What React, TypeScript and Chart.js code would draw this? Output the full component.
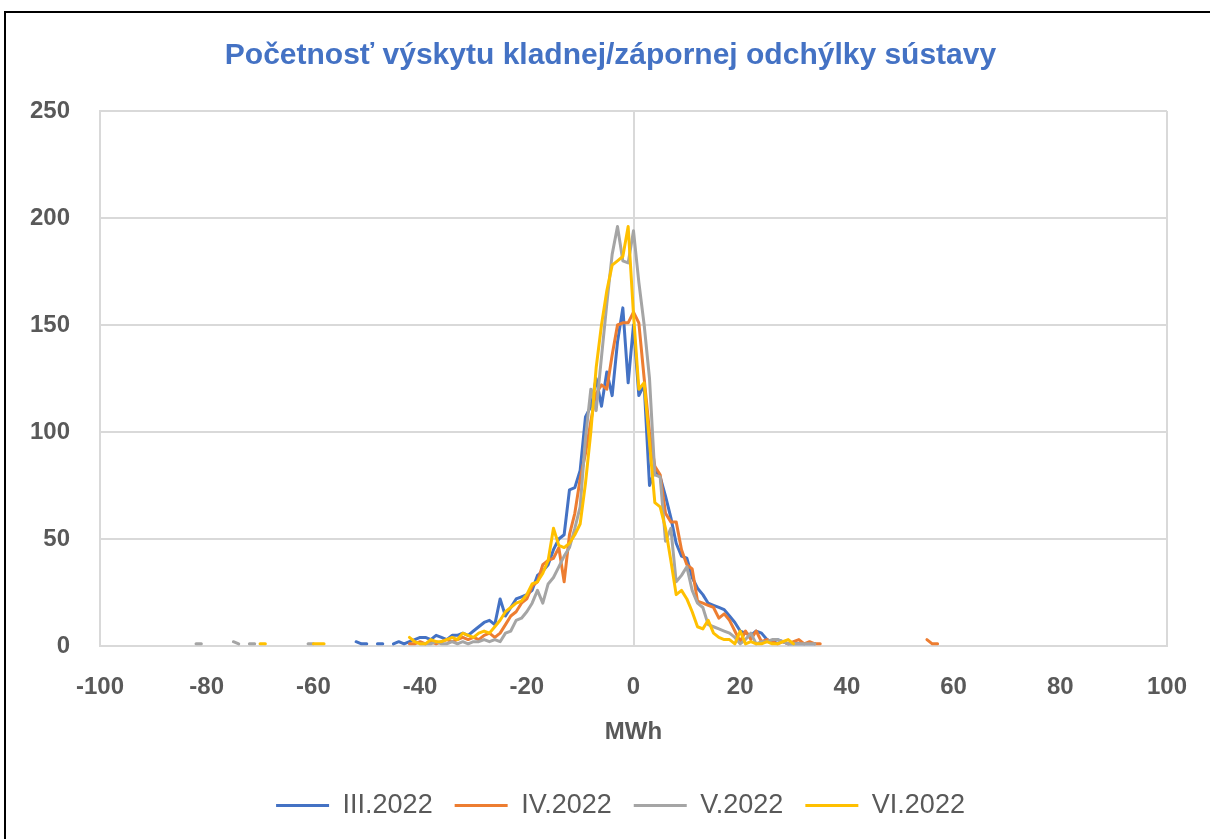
import React, { useEffect, useRef } from "react";
import { Chart, registerables } from "chart.js";

Chart.register(...registerables);

const seriesNames = ["III.2022", "IV.2022", "V.2022", "VI.2022"];
const seriesColors = ["#4472C4", "#ED7D31", "#A5A5A5", "#FFC000"];

// Values per 1 MWh bin, starting at the given MWh value; null = no occurrence (gap)
const startIII = -52;
const countsIII = [
  2, 1, 1, null, 1, 1, null, 1, 2, 1,
  2, 3, 4, 4, 3, 5, 4, 3, 5, 5,
  6, 5, 7, 9, 11, 12, 10, 22, 14, 18,
  22, 23, 24, 26, 33, 35, 38, 45, 50, 52,
  73, 74, 82, 107, 112, 125, 112, 128, 117, 142,
  158, 123, 150, 117, 122, 75, 82, 79, 70, 60,
  48, 42, 41, 32, 27, 24, 20, 19, 18, 17,
  14, 11, 7, 6, 5, 7, 6, 3, 2, 3,
  2, 1, 1, 1, 1, 1, 1,
];

const startIV = -42;
const countsIV = [
  1, 1, 2, 1, 2, 1, 2, 3, 2, 3,
  4, 3, 4, 3, 5, 6, 4, 6, 10, 14,
  16, 20, 22, 28, 30, 38, 40, 41, 46, 30,
  52, 62, 78, 90, 105, 118, 122, 120, 136, 150,
  151, 151, 156, 151, 125, 100, 84, 80, 62, 58,
  58, 45, 38, 36, 21, 20, 19, 18, 13, 15,
  12, 7, 2, 7, 3, 7, 2, 3, 2, 1,
  2, 1, 2, 3, 1, 2, 1, 1,
  null, null, null, null, null, null, null, null, null, null,
  null, null, null, null, null, null, null, null, null,
  3, 1, 1,
];

const startV = -82;
const countsV = [
  1, 1, null, null, null, null, null, 2, 1, null,
  1, 1, null, null, null, null, null, null, null, null,
  null, 1, 1, null, null, null, null, null, null, null,
  null, null, null, null, null, null, null, null, null, null,
  null, null,
  1, 1, 1, 2, 1, 1, 2, 1, 2, 1,
  2, 2, 3, 2, 3, 2, 6, 7, 12, 13,
  16, 20, 26, 20, 29, 32, 37, 42, 46, 55,
  65, 97, 120, 110, 135, 160, 183, 196, 180, 179,
  194, 170, 150, 125, 80, 79, 49, 55, 30, 33,
  37, 26, 20, 18, 10, 9, 8, 7, 6, 4,
  1, 3, 6, 1, 2, 2, 3, 3, 2, 1,
  1, 1, 1, 1, 1,
];

const startVI = -70;
const countsVI = [
  1, 1, null, null, null, null, null, null, null, null,
  1, 1, 1, null, null, null, null, null, null, null,
  null, null, null, null, null, null, null, null,
  4, 2, 1, 1, 3, 2, 2, 3, 4, 3,
  6, 5, 4, 6, 7, 6, 9, 12, 16, 18,
  20, 21, 24, 29, 30, 34, 40, 55, 47, 46,
  48, 52, 57, 76, 100, 130, 150, 166, 178, 180,
  182, 196, 155, 120, 123, 95, 67, 65, 55, 40,
  24, 26, 22, 16, 9, 8, 12, 6, 4, 3,
  3, 1, 7, 1, 2, 1, 1, 2, 1, 1,
  2, 3, 1,
];

const xTicks = [-100, -80, -60, -40, -20, 0, 20, 40, 60, 80, 100];
const yTicks = [0, 50, 100, 150, 200, 250];

const titleText = "Početnosť výskytu kladnej/zápornej odchýlky sústavy";
const xTitle = "MWh";

const toPoints = (start: number, values: (number | null)[]) =>
  values.map((v, i) => ({ x: start + i, y: v }));

const starts = [startIII, startIV, startV, startVI];
const counts = [countsIII, countsIV, countsV, countsVI];

// shifts title / legend boxes horizontally after layout (they are otherwise centred on the canvas)
const shiftBoxes = {
  id: "shiftBoxes",
  afterLayout(chart: any) {
    if (chart.titleBlock) {
      chart.titleBlock.left += 27;
      chart.titleBlock.right += 27;
    }
    if (chart.legend) {
      chart.legend.left += 37;
      chart.legend.right += 37;
    }
  },
};

export default function App() {
  const ref = useRef<HTMLCanvasElement>(null);

  useEffect(() => {
    if (!ref.current) return;
    const font = "'Liberation Sans', Arial, sans-serif";
    const grey = "#595959";
    const gridCol = "#D9D9D9";
    const chart = new Chart(ref.current, {
      type: "line",
      plugins: [shiftBoxes],
      data: {
        datasets: seriesNames.map((name, i) => ({
          label: name,
          data: toPoints(starts[i], counts[i]) as any,
          borderColor: seriesColors[i],
          backgroundColor: seriesColors[i],
          borderWidth: 3,
          pointRadius: 0,
          tension: 0,
          spanGaps: false,
          borderJoinStyle: "round",
          borderCapStyle: "round",
          order: seriesNames.length - i,
        })),
      },
      options: {
        animation: false,
        responsive: false,
        devicePixelRatio: 1,
        layout: { padding: { left: 0, right: 43, top: 0, bottom: 10 } },
        plugins: {
          title: {
            display: true,
            text: titleText,
            color: "#4472C4",
            font: { family: font, size: 30, weight: "bold" },
            padding: { top: 38, bottom: 37 },
          },
          legend: {
            position: "bottom",
            labels: {
              color: grey,
              font: { family: font, size: 27 },
              boxWidth: 53,
              boxHeight: 3,
              padding: 22,
              sort: (a: any, b: any) => a.datasetIndex - b.datasetIndex,
              generateLabels: (c: any) => {
                const items = Chart.defaults.plugins.legend.labels.generateLabels(c);
                return items.map((it: any) => ({
                  ...it,
                  fillStyle: seriesColors[it.datasetIndex],
                  lineWidth: 0,
                }));
              },
            },
          },
          tooltip: { enabled: false },
        },
        scales: {
          x: {
            type: "linear",
            min: -100,
            max: 100,
            afterBuildTicks: (s: any) => {
              s.ticks = xTicks.map((v) => ({ value: v }));
            },
            afterFit: (s: any) => {
              s.height = 124;
            },
            ticks: {
              color: grey,
              font: { family: font, size: 24, weight: "bold" },
              padding: 7,
              maxRotation: 0,
            },
            grid: {
              drawTicks: true,
              tickLength: 20,
              tickColor: "rgba(0,0,0,0)",
              lineWidth: 2,
              color: (ctx: any) =>
                ctx.tick && (ctx.tick.value === 0 || ctx.tick.value === 100 || ctx.tick.value === -100)
                  ? gridCol
                  : "rgba(0,0,0,0)",
            },
            border: { display: true, color: gridCol, width: 2 },
            title: {
              display: true,
              text: xTitle,
              color: grey,
              font: { family: font, size: 24, weight: "bold" },
              padding: { top: 15, bottom: 23 },
            },
          },
          y: {
            type: "linear",
            min: 0,
            max: 250,
            afterBuildTicks: (s: any) => {
              s.ticks = yTicks.map((v) => ({ value: v }));
            },
            afterFit: (s: any) => {
              s.width = 100;
            },
            ticks: {
              color: grey,
              font: { family: font, size: 24, weight: "bold" },
              padding: 30,
            },
            grid: { drawTicks: false, lineWidth: 2, color: gridCol },
            border: { display: true, color: gridCol, width: 2 },
          },
        },
      } as any,
    });
    return () => chart.destroy();
  }, []);

  return (
    <div
      style={{
        position: "absolute",
        left: 0,
        top: 0,
        width: 1210,
        height: 839,
        background: "#ffffff",
        overflow: "hidden",
      }}
    >
      <div
        style={{
          position: "absolute",
          left: 4,
          top: 11,
          width: 1300,
          height: 900,
          borderTop: "2px solid #000",
          borderLeft: "2px solid #000",
        }}
      />
      <canvas
        ref={ref}
        width={1210}
        height={839}
        style={{ position: "absolute", left: 0, top: 0 }}
      />
    </div>
  );
}
